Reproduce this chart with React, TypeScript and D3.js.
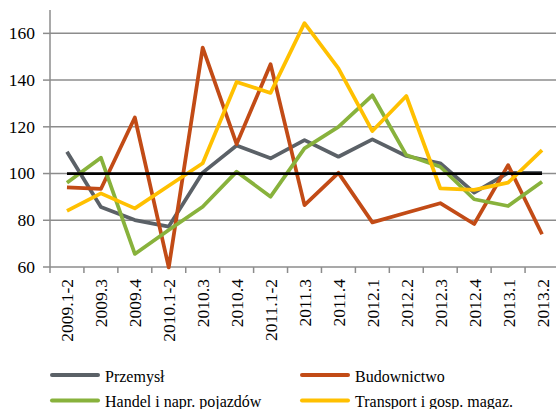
import * as d3 from "d3";

const CATEGORIES = [
  "2009.1-2", "2009.3", "2009.4", "2010.1-2", "2010.3", "2010.4", "2011.1-2", "2011.3",
  "2011.4", "2012.1", "2012.2", "2012.3", "2012.4", "2013.1", "2013.2",
];

const PRZEMYSL = [109.3, 85.7, 80.1, 77.3, 100.4, 112, 106.5, 114.3, 107.2, 114.6, 107.5, 104.4, 91.8, 100.3, 100.3];
const BUDOWNICTWO = [94.1, 93.4, 124, 59.8, 153.9, 112.6, 146.8, 86.5, 100.3, 79.1, 83.2, 87.3, 78.4, 103.6, 74];
const HANDEL = [96.1, 106.8, 65.6, 75.8, 85.8, 100.8, 90.1, 110.8, 120, 133.5, 107.9, 102.9, 89, 86.1, 96.5];
const TRANSPORT = [84, 91.5, 85.1, 94.8, 104.4, 139.2, 134.5, 164.4, 145, 118.2, 133.2, 93.7, 93, 96.1, 110];
const BASELINE = CATEGORIES.map(() => 100);

const Y_TICKS = [60, 80, 100, 120, 140, 160];

const SERIES = [
  { label: "Przemysł", values: PRZEMYSL, color: "#5b6167" },
  { label: "Budownictwo", values: BUDOWNICTWO, color: "#c24b16" },
  { label: "Handel i napr. pojazdów", values: HANDEL, color: "#88b23c" },
  { label: "Transport i gosp. magaz.", values: TRANSPORT, color: "#ffc000" },
];

const FONT = "Liberation Serif";
const GRID = "#8c8c8c";

const W = 556, H = 409;
const x = d3.scaleBand().domain(CATEGORIES).range([50, 559]).padding(0);
const y = d3.scaleLinear().domain([60, 170]).range([267, 10]);
const cx = (c: string) => (x(c) ?? 0) + x.bandwidth() / 2;

const line = d3.line<number>()
  .x((_, i) => cx(CATEGORIES[i]))
  .y(d => y(d));

const LEGEND_POS = [
  { lx: 50, ly: 375 },
  { lx: 300, ly: 375 },
  { lx: 50, ly: 400.5 },
  { lx: 300, ly: 400.5 },
];

export default function App() {
  const x0 = 50;
  const yBottom = y(60);
  return (
    <svg width={W} height={H} fontFamily={FONT}
      style={{ position: "absolute", left: 0, top: 0, display: "block", background: "#fff" }}>
      <style>{`text { font-family: 'Liberation Serif', 'Times New Roman', Tinos; }`}</style>
      {/* grid */}
      {Y_TICKS.filter(t => t > 60).map(t => (
        <line key={"g" + t} x1={x0} x2={W} y1={y(t)} y2={y(t)} stroke={GRID} strokeWidth={1.5} />
      ))}
      {/* y axis */}
      <line x1={x0} x2={x0} y1={y(170)} y2={yBottom} stroke={GRID} strokeWidth={1.5} />
      {Y_TICKS.map(t => (
        <g key={"y" + t}>
          <line x1={x0 - 7} x2={x0} y1={y(t)} y2={y(t)} stroke={GRID} strokeWidth={1.5} />
          <text x={x0 - 15} y={y(t)} dy="0.33em" textAnchor="end" fontSize={17.5} fontFamily={FONT}>
            {t}
          </text>
        </g>
      ))}
      {/* x axis */}
      <line x1={x0} x2={W} y1={yBottom} y2={yBottom} stroke={GRID} strokeWidth={1.5} />
      {CATEGORIES.map(c => (
        <line key={"t" + c} x1={x(c)} x2={x(c)} y1={yBottom} y2={yBottom + 6} stroke={GRID} strokeWidth={1.5} />
      ))}
      {CATEGORIES.map(c => (
        <text key={"l" + c} transform={`translate(${cx(c) + 6.5},279) rotate(-90)`} textAnchor="end"
          fontSize={17.5} fontFamily={FONT}>
          {c}
        </text>
      ))}
      {/* series */}
      {SERIES.map(s => (
        <path key={s.label} d={line(s.values) ?? ""} fill="none" stroke={s.color} strokeWidth={3.75} strokeLinejoin="round" />
      ))}
      <path d={line(BASELINE) ?? ""} fill="none" stroke="#000" strokeWidth={2.75} />
      {/* legend */}
      {SERIES.map((s, i) => {
        const { lx, ly } = LEGEND_POS[i];
        return (
          <g key={"lg" + s.label}>
            <line x1={lx + 2} x2={lx + 48} y1={ly} y2={ly} stroke={s.color} strokeWidth={4} strokeLinecap="round" />
            <text x={lx + 55} y={ly + 6.5} fontSize={16} fontFamily={FONT}>{s.label}</text>
          </g>
        );
      })}
    </svg>
  );
}
